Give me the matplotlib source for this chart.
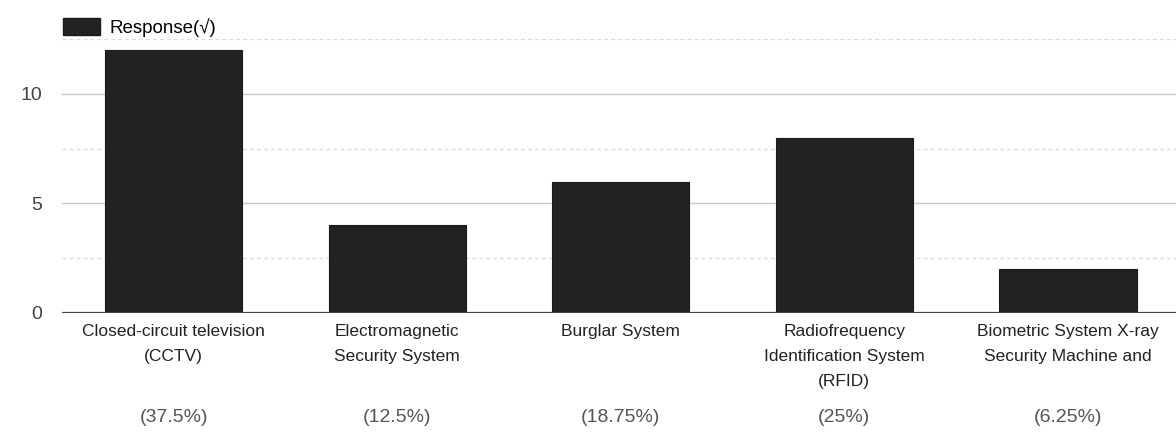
import matplotlib
matplotlib.use("Agg")
import matplotlib.pyplot as plt
from matplotlib.ticker import MultipleLocator
from matplotlib.patches import Patch

categories = [
    "Closed-circuit television\n(CCTV)",
    "Electromagnetic\nSecurity System",
    "Burglar System",
    "Radiofrequency\nIdentification System\n(RFID)",
    "Biometric System X-ray\nSecurity Machine and",
]
responses = [12, 4, 6, 8, 2]
percent_labels = ["(37.5%)", "(12.5%)", "(18.75%)", "(25%)", "(6.25%)"]
series_name = "Response(\u221a)"

plt.rcParams["font.family"] = ["Liberation Sans", "DejaVu Sans"]

fig = plt.figure(figsize=(11.76, 4.32), dpi=100)
ax = fig.add_axes([0.0527, 0.2755, 0.9503, 0.634])

x = list(range(len(categories)))
ax.bar(x, responses, width=0.615, color="#222222", edgecolor="#1a1a1a", linewidth=0.8, zorder=3)

ax.set_xlim(-0.5, 4.5)
ax.set_ylim(0, 12.5)
ax.yaxis.set_major_locator(MultipleLocator(5))
ax.yaxis.set_minor_locator(MultipleLocator(2.5))
ax.grid(True, which="major", axis="y", color="#c8c8c8", linewidth=1.0, zorder=0)
ax.grid(True, which="minor", axis="y", color="#dcdcdc", linewidth=1.0, linestyle=(0, (3, 2)), zorder=0)
ax.axhline(0, color="#444444", linewidth=1.6, zorder=4)

for s in ax.spines.values():
    s.set_visible(False)

ax.set_xticks(x)
ax.set_xticklabels(categories, fontsize=12.5, color="#222222", linespacing=1.85)
ax.tick_params(axis="x", length=0, pad=8)
ax.tick_params(axis="y", which="both", length=0, pad=14, labelsize=14, labelcolor="#444444")

for xi, p in zip(x, percent_labels):
    ax.text(xi, -0.38, p, transform=ax.get_xaxis_transform(), ha="center", va="center",
            fontsize=14, color="#555555")

handle = Patch(facecolor="#222222", edgecolor="#1a1a1a")
fig.legend([handle], [series_name], loc="upper left", bbox_to_anchor=(0.044, 0.985),
           frameon=False, fontsize=13.5, handlelength=2.0, handleheight=1.05,
           handletextpad=0.5, borderaxespad=0.3, borderpad=0.3)

fig.savefig("out.png", dpi=100)
